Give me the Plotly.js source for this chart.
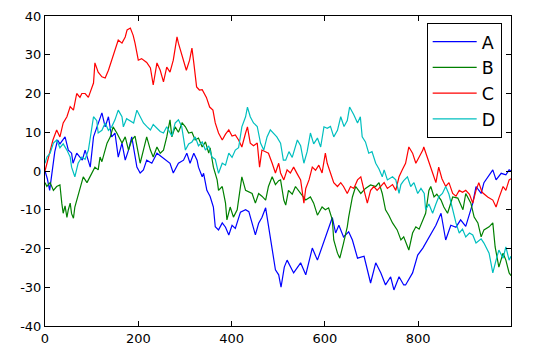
<!DOCTYPE html>
<html>
<head>
<meta charset="utf-8">
<script src="https://cdn.plot.ly/plotly-3.0.1.min.js"></script>
<style>html,body{margin:0;padding:0;background:#fff;}#chart{width:538px;height:356px;}</style>
</head>
<body>
<div id="chart"></div>
<script>
const seriesNames = ["A", "B", "C", "D"];
const xTickVals = [0, 200, 400, 600, 800];
const yTickVals = [-40, -30, -20, -10, 0, 10, 20, 30, 40];

const xA = [0,5,10,15,21,27,32,43,50,57,60,68,80,86,97,104,114,122,129,136,143,150,157,165,172,179,186,197,204,211,218,229,240,251,258,268,275,286,297,304,311,319,326,329,337,340,347,354,361,365,372,380,387,394,401,408,419,430,437,444,451,458,465,473,479,487,494,501,506,513,519,533,548,559,573,584,601,616,623,630,640,651,659,670,684,698,709,720,730,741,748,759,769,773,788,799,810,823,838,849,859,870,881,891,902,917,924,935,941,960,967,978,988,995,999];
const yA = [0,-2,-5,-1,5,8,7,8.8,5.4,4.6,2,4.6,2.8,5.4,1,8.8,12.4,15,11.4,14,8.8,9.8,3.6,7.2,2.8,5.4,8.8,1,-0.5,0.3,2.8,2,4.6,3.6,2.8,2,-0.5,2,2.8,4.6,2,4.6,2.8,1,-1.5,-0.6,-5,-6.6,-9.3,-14.4,-15.2,-13.4,-14.5,-16.5,-14,-14.8,-10.6,-10,-10.5,-13.4,-16.5,-13.5,-12,-9.5,-14.4,-20.4,-25.5,-26.8,-30,-24.8,-23,-26.3,-23.7,-26.8,-19.9,-23,-17,-12,-16,-14,-17,-15.7,-17.8,-22.5,-22,-28.9,-23.7,-26.3,-29.4,-27.3,-30.7,-27.3,-29.4,-29.4,-26.3,-21.7,-19.9,-17,-14,-10.9,-17.8,-14,-14.5,-12.6,-14.3,-8.3,-4,-5.8,-3,0.3,-2.3,-0.6,-1,0.3,0];

const xB = [0,4,11,18,25,32,36,39,43,47,50,54,57,61,64,68,75,82,90,97,107,114,118,122,133,140,146,154,165,172,179,186,193,200,204,211,218,226,232,240,247,254,261,268,272,279,286,294,301,308,315,322,329,337,344,351,354,361,369,372,380,387,390,397,404,412,419,422,430,437,444,451,458,465,473,479,487,494,501,505,512,516,522,530,537,548,559,569,576,584,594,601,608,616,619,627,632,640,648,651,659,666,677,687,698,709,716,723,730,737,745,755,763,769,780,788,795,802,810,816,823,827,834,840,849,855,863,874,885,896,902,913,920,928,935,941,952,960,965,973,982,988,995,999];
const yB = [-3,-4,-3,-5,-4,-3.6,-8.3,-10.9,-9,-12,-10,-8.3,-11,-12.2,-9.3,-7.5,-4,-1.5,-3,-1.5,1,0.3,3.6,2.4,7.2,8.8,11.4,9.8,7.2,8.8,5.4,8,9,4.6,2,5.4,8.8,5.4,3.6,6.2,4.6,5.4,8.8,13.2,8.8,11.4,10,12.4,11.4,9.8,10,8,8.5,6.2,7.5,4.6,6,1,-2.3,-5,-4,-8.3,-12.6,-9.3,-11.9,-10,-4,-1.5,-5,-5.5,-5.8,-8.3,-5.8,-6.5,-7.5,-4,-1.5,-3.5,-2.5,-2.3,-7.5,-8.8,-5,-6,-4,-5.8,-7.5,-6.7,-8.3,-11.4,-9.3,-10,-9.5,-12.6,-17.8,-21.2,-22.5,-18.6,-14.4,-11.9,-6.7,-4,-5.8,-4.5,-3.6,-4,-3,-5.8,-10,-11.4,-13.4,-15.2,-17.8,-17,-20.4,-16,-14.4,-15,-12.6,-10.9,-5,-4,-6.7,-6,-7.5,-9.3,-10.9,-6.7,-7,-10,-5.8,-8.3,-11.9,-13.4,-17,-15.2,-14.4,-13.4,-19.6,-24.8,-21.2,-23,-26.3,-27];

const xC = [0,10,17,25,32,39,47,54,61,68,75,79,86,93,97,104,107,114,122,129,136,143,150,157,165,172,176,183,189,193,200,207,218,226,232,240,247,254,261,268,275,283,286,292,297,303,310,315,319,325,331,337,346,353,360,365,372,380,387,394,401,408,415,422,430,434,440,447,455,460,465,473,479,487,494,501,505,512,519,526,533,541,548,555,559,566,573,580,587,594,601,605,612,619,627,634,640,648,655,662,670,677,684,691,698,705,712,720,727,734,745,752,759,766,773,780,788,795,802,810,812,820,831,838,844,851,859,866,874,881,888,895,902,910,917,924,930,937,949,960,967,973,982,988,995,999];
const yC = [0,5,8,10.6,8.8,12.4,14,16.6,15.7,20,19,20,20,19,20.5,22.7,27.9,25.5,24.3,24,26,28.6,31.2,33.8,33,34.6,36.4,36.9,35,33,28.6,29,28,26.6,22.2,27.9,26,23,26.8,25.5,28.6,34.6,33,30.4,27.9,26,28.6,31.7,27.9,21.7,20.9,21,19,16.5,15.7,12.4,9.8,8,9.5,10.6,9,9.3,8,6.2,9.8,11.4,7.2,6.5,7.2,1,5.4,5,4.6,2,-0.5,2,-0.5,-2.3,0.3,-0.5,1,-0.8,-2.3,-8.3,-4.5,-2.3,1,0.2,1.5,-0.5,4.6,2,-0.8,-3,-4,-3,-4,-5.8,-4,-4.5,-2.3,-1.5,-5,-8.3,-5,-4,-5,-4,-3,-4.5,-3.5,-5,-1.5,0.3,2,6.2,4.6,2,3.5,5.4,6.2,3.6,-0.5,-3,1,-2,-4,-3,-5.8,-6.5,-5,-5.5,-5,-6,-8.3,-5,-3,-5.5,-6.7,-7.5,-9.3,-7,-4,-5,-2.3,-2];

const xD = [0,4,11,18,25,32,39,47,54,57,64,71,79,86,93,100,104,111,114,122,129,136,143,150,157,165,168,175,182,190,197,204,211,218,226,232,240,247,254,261,272,279,286,293,301,308,315,322,329,337,344,351,358,365,372,380,387,394,401,408,415,422,430,434,440,447,455,462,469,476,483,490,497,505,511,516,523,530,541,548,555,562,569,576,584,591,598,605,612,619,627,634,641,648,653,662,670,676,680,687,694,701,709,716,723,727,734,745,752,759,763,769,777,784,791,799,806,813,816,823,831,838,844,852,859,866,874,881,888,895,902,910,917,924,935,941,952,960,967,973,982,988,995,999];
const yD = [2,3.6,4.6,7.2,8,6,7,5.4,3.6,1,-1.5,2,3.6,3,5.4,11.4,14,13,9.8,10.5,12.4,10.5,11.4,13.2,15.7,14,11.4,13.5,13,12.4,15.7,14,12.4,11.5,10.6,12,11,10.2,9.8,11.4,9,12.4,13.2,11.5,5.4,7,7.5,8.8,6.5,7.5,5.4,6.5,3.6,3,-0.6,2,1.5,4.6,3.5,5.4,6,11.4,14,16.5,14,12.4,11.5,7.2,5.4,8.8,10.6,9.8,8.8,7.2,2.8,2.8,5,3.5,8,6.5,2,5,9.8,7,8.5,6.2,11.4,11,11.5,8.8,10.5,14,11.5,13,16.5,14.5,12.4,14,8.8,7.5,4.6,5,2,0.5,-1.5,0.3,-2.3,-1.5,-2.3,-5.8,-3.5,-2.5,-1.5,-4,-3,-5.8,-4.5,-5.8,-10,-8.5,-10.9,-8.5,-6.7,-5.8,-4,-6,-10,-13.4,-16,-15,-17,-16,-16.5,-18.6,-17.5,-18.6,-21.2,-26.3,-23,-20.4,-22.5,-19.6,-23,-22];

const colors = ["#0000ff", "#008000", "#ff0000", "#00bfbf"];
const xs = [xA, xB, xC, xD];
const ys = [yA, yB, yC, yD];

const traces = seriesNames.map((n, i) => ({
  type: "scatter", mode: "lines", name: n,
  x: xs[i], y: ys[i],
  line: {color: colors[i], width: 1.2}
}));

const axisCommon = {
  showgrid: false, zeroline: false, showline: true, linecolor: "#000", linewidth: 1,
  mirror: "ticks", ticks: "inside", ticklen: 5, tickcolor: "#000", tickwidth: 1,
  tickfont: {family: "DejaVu Sans", size: 13, color: "#000"}
};

const layout = {
  width: 538, height: 356,
  margin: {l: 45, r: 27, t: 16, b: 30},
  paper_bgcolor: "#fff", plot_bgcolor: "#fff",
  showlegend: true,
  legend: {
    x: 0.98, y: 0.978, xanchor: "right", yanchor: "top",
    bgcolor: "#fff", bordercolor: "#000", borderwidth: 1,
    itemwidth: 44,
    font: {family: "DejaVu Sans", size: 17.5, color: "#000"}
  },
  xaxis: Object.assign({}, axisCommon, {range: [0, 999], tickvals: xTickVals, ticktext: xTickVals.map(String)}),
  yaxis: Object.assign({}, axisCommon, {range: [-40, 40], tickvals: yTickVals, ticktext: yTickVals.map(String)})
};

Plotly.newPlot("chart", traces, layout, {displayModeBar: false, staticPlot: true});
</script>
</body>
</html>
